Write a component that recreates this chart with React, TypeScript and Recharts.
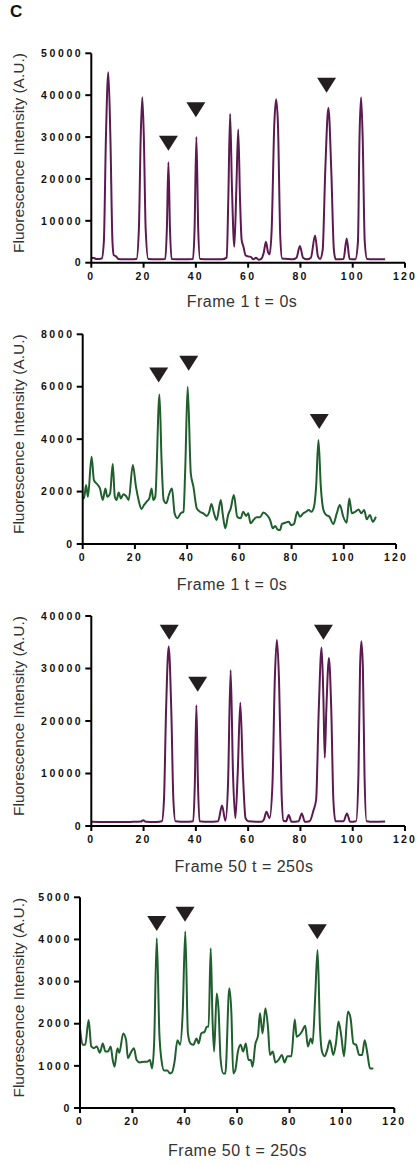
import React from "react";
import { ComposedChart, Line, Scatter, XAxis, YAxis, Label } from "recharts";

// x positions (frame pixel index) and intensities
const frame1Purple: [number, number][] = [
  [0, 1200], [1, 1100], [2, 900], [3, 900], [4, 1000], [4.8, 5000], [5.6, 30000], [6.5, 45500], [7.3, 30000], [8.1, 5000],
  [8.6, 1800], [9.5, 1500], [10.3, 900], [12, 800], [15, 800], [17.3, 900], [18.2, 8000], [18.9, 30000], [19.5, 39500],
  [20.1, 30000], [20.8, 8000], [21.8, 900], [25, 800], [28.3, 900], [28.9, 8000], [29.5, 24000], [30.1, 8000], [30.7, 900],
  [35, 800], [38.9, 900], [39.5, 8000], [40.2, 30000], [40.9, 8000], [41.6, 900], [45, 800], [50, 800], [51.8, 1200],
  [52.4, 15000], [53.1, 35500], [53.8, 18000], [54.7, 3800], [55.5, 18000], [56.2, 31800], [56.9, 15000], [57.5, 5500],
  [58.2, 3800], [59, 1800], [60, 1500], [61, 1400], [62, 800], [63, 1200], [64, 700], [65, 900], [66, 2500], [66.8, 5000],
  [67.6, 2500], [68.2, 2000], [69, 8000], [70, 33000], [70.7, 39000], [71.4, 33000], [72.3, 6000], [73, 1000], [75, 900],
  [77, 800], [78.5, 1200], [79.8, 4000], [81, 1200], [82.5, 800], [84, 1200], [85.6, 6500], [86.7, 1500], [87.5, 900],
  [88.5, 3000], [89.5, 22000], [90.7, 37000], [91.8, 22000], [92.8, 3000], [93.5, 800], [96.5, 900], [97.7, 5800],
  [98.8, 900], [101, 800], [102, 5000], [102.6, 30000], [103.2, 39500], [103.8, 30000], [104.6, 5000], [105.5, 900],
  [108, 800], [112.4, 800],
];

const frame1Green: [number, number][] = [
  [0, 1800], [0.5, 1740], [1.3, 2250], [2, 1800], [3.4, 3330], [4.3, 2440], [5.4, 2300], [6.6, 2120], [7.7, 1680],
  [8.7, 2120], [9.4, 1800], [10.5, 1930], [11.5, 3050], [12.3, 1800], [13, 1680], [13.8, 1960], [14.6, 1740], [15.6, 1900],
  [16.6, 1830], [17.6, 1680], [19.2, 3015], [20.4, 2190], [21.4, 1680], [22.5, 1340], [23.5, 1490], [24.5, 1620],
  [25.5, 1740], [26.4, 2120], [27, 1680], [27.8, 1800], [29.4, 5700], [30.2, 3200], [31, 1680], [32, 1550], [33, 1870],
  [34.2, 2120], [35.2, 1170], [36.3, 980], [37.5, 1170], [38.6, 1230], [39.3, 2950], [40.2, 6000], [41.4, 2700],
  [42.4, 2190], [43.7, 1360], [44.9, 1230], [46.2, 1170], [47.5, 1070], [48.5, 1230], [49.3, 1530], [50.3, 1170],
  [51.3, 915], [52.9, 1680], [53.6, 1170], [54.6, 600], [55.7, 1110], [56.7, 1360], [57.9, 1870], [59.2, 1040],
  [60.5, 980], [61.5, 1230], [62.6, 1070], [63.4, 1170], [64.3, 790], [65.4, 915], [66.6, 1020], [67.9, 1020],
  [69.2, 1200], [70.5, 1110], [71.8, 915], [72.8, 600], [73.7, 690], [74.6, 560], [75.6, 530], [76.3, 760], [77.6, 810],
  [78.9, 850], [79.9, 720], [80.9, 760], [82.2, 1230], [83.2, 1040], [84.5, 1170], [85.5, 1230], [86.6, 1300],
  [87.6, 1230], [88.6, 1420], [89.4, 2190], [90.3, 3970], [91.2, 2190], [92.2, 1300], [93.2, 1110], [94.5, 1040],
  [96, 760], [97.3, 1170], [98.5, 1490], [99.8, 1040], [101.1, 810], [102.1, 1740], [103.1, 1170], [104.4, 1230],
  [105.7, 1320], [106.7, 1170], [107.8, 1300], [108.8, 940], [110, 1110], [111.1, 850], [112.3, 1040],
];

const frame50Purple: [number, number][] = [
  [0, 800], [5, 750], [10, 750], [15, 780], [19, 850], [19.9, 1100], [20.8, 800], [25, 750], [27, 900], [27.8, 5000],
  [28.6, 22000], [29.6, 34200], [30.6, 22000], [31.4, 5000], [32.2, 900], [36, 800], [39, 900], [39.6, 8000],
  [40.2, 23000], [40.8, 8000], [41.4, 900], [45, 800], [48.5, 900], [50, 3900], [51.3, 1000], [52.3, 8000],
  [53.3, 29700], [54.2, 10000], [55.1, 1500], [56, 10000], [57, 23500], [58, 10000], [59, 1500], [60, 900], [65, 800],
  [66, 1200], [67, 2700], [68.2, 1500], [69.3, 8000], [70.2, 28000], [71, 35500], [71.8, 28000], [72.8, 6000],
  [73.5, 1000], [74.5, 900], [75.5, 2100], [76.6, 800], [79.3, 900], [80.5, 2400], [81.7, 800], [83.5, 900], [85, 3000],
  [86, 5000], [87, 22000], [88.1, 34000], [88.8, 24000], [89.3, 13000], [89.9, 22000], [90.9, 32000], [91.8, 22000],
  [92.6, 5000], [93.4, 900], [96.5, 900], [97.8, 2400], [99, 800], [101.3, 900], [102.2, 10000], [102.8, 30000],
  [103.3, 35200], [103.9, 30000], [104.5, 10000], [105.3, 900], [108, 800], [112.4, 850],
];

const frame50Green: [number, number][] = [
  [0, 1890], [1, 1500], [2, 1500], [3.3, 2090], [4.3, 1460], [5.3, 1420], [6.4, 1460], [7.6, 1310], [8.7, 1530],
  [9.7, 1340], [10.7, 1340], [11.7, 1460], [12.5, 1140], [13.2, 980], [14.3, 1420], [15, 1310], [16.5, 1770],
  [17.6, 1610], [18.3, 1180], [19.3, 1300], [20.6, 1420], [21.6, 1140], [22.9, 1080], [24.4, 1100], [25.7, 1100],
  [26.7, 1140], [27.5, 940], [28.3, 1530], [29.3, 4030], [30.3, 1770], [31.1, 1140], [32.1, 890], [33.3, 890],
  [34.4, 820], [35.1, 840], [36.1, 1100], [37.2, 1610], [38.2, 1500], [39.2, 2250], [40.2, 4190], [41.2, 1770],
  [42.2, 1530], [43.3, 1500], [44.5, 1650], [45.3, 1530], [46.3, 1770], [47.6, 1810], [48.4, 1930], [49.1, 1930],
  [49.9, 3790], [50.6, 2090], [51.2, 1340], [52.2, 2720], [52.9, 2330], [53.7, 1140], [54.7, 820], [55.5, 820],
  [57, 2840], [57.8, 2250], [58.5, 820], [59.3, 900], [60.3, 1340], [61.3, 1500], [62.3, 1340], [63.3, 1530],
  [64.3, 1140], [65.2, 1140], [65.9, 980], [66.9, 1500], [68, 1730], [68.7, 2250], [69.7, 1770], [70.8, 2370],
  [71.8, 1890], [72.5, 1260], [73.6, 1340], [74.6, 1080], [75.8, 1140], [77.1, 1260], [78.1, 1080], [79.2, 1230],
  [80.7, 1230], [82, 2100], [82.7, 1690], [83.7, 1730], [84.7, 1810], [86, 1950], [87, 1460], [88.1, 1650],
  [88.8, 1530], [89.8, 2640], [90.7, 3750], [91.6, 1930], [92.4, 1340], [93.4, 1230], [94.4, 1380], [95.4, 1610],
  [96.7, 1260], [97.7, 1530], [98.7, 2050], [99.8, 1690], [100.8, 1230], [102.3, 2290], [103.3, 2130], [104.4, 1530],
  [105.4, 1500], [106.6, 1260], [107.7, 1260], [108.7, 1610], [109.7, 1300], [110.7, 940], [112, 940],
];

// arrowhead annotations (x, y in data units)
const frame1PurpleMarks: [number, number][] = [[29.5, 28500], [40, 36500], [90, 42400]];
const frame1GreenMarks: [number, number][] = [[29.1, 6450], [40.6, 6900], [90.6, 4670]];
const frame50PurpleMarks: [number, number][] = [[29.8, 36900], [40.7, 27000], [88.8, 36900]];
const frame50GreenMarks: [number, number][] = [[29.3, 4380], [40.1, 4600], [90.6, 4185]];

const xTicks = [0, 20, 40, 60, 80, 100, 120];
const purpleTicks1 = [0, 10000, 20000, 30000, 40000, 50000];
const greenTicks1 = [0, 2000, 4000, 6000, 8000];
const purpleTicks50 = [0, 10000, 20000, 30000, 40000];
const greenTicks50 = [0, 1000, 2000, 3000, 4000, 5000];

const PURPLE = "#5c1a51";
const GREEN = "#1f5f2d";
const FONT = "'Liberation Sans', Arial, Helvetica, sans-serif";

const xTickStyle = { fill: "#111", fontSize: 10.5, fontWeight: 700, fontFamily: FONT, letterSpacing: 2.2 };
const yTickStyle = { fill: "#111", fontSize: 10.5, fontWeight: 700, fontFamily: FONT, letterSpacing: 2.6 };

const Triangle = (props: any) => {
  const { cx, cy } = props;
  if (cx == null || cy == null) return null;
  return <path d={`M${cx - 9.5},${cy - 7.5} L${cx + 9.5},${cy - 7.5} L${cx},${cy + 7.5} Z`} fill="#231f20" />;
};

function Panel(p: any) {
  const lineData = p.series.map(([x, y]: [number, number]) => ({ x, y }));
  const markData = p.marks.map(([x, y]: [number, number]) => ({ x, y }));
  const xAxisH = 30;
  return (
    <div style={{ position: "absolute", left: 0, top: p.top, width: 417, height: p.height }}>
      <ComposedChart
        width={417}
        height={p.height}
        margin={{ top: p.plotTop - p.top, right: 417 - p.right, bottom: p.top + p.height - p.plotBottom - xAxisH, left: 0 }}
      >
        <XAxis
          type="number"
          dataKey="x"
          domain={[0, 120]}
          ticks={xTicks}
          interval={0}
          height={xAxisH}
          axisLine={{ stroke: "#000", strokeWidth: 2 }}
          tickLine={{ stroke: "#000", strokeWidth: 2 }}
          tickSize={5}
          tickMargin={5}
          tick={xTickStyle}
        >
          <Label
            content={() => (
              <text x={p.titleX} y={p.titleY - p.top} textAnchor="middle" dominantBaseline="central"
                fontFamily={FONT} fontSize={16} letterSpacing={0.5} fill="#333">
                {p.title}
              </text>
            )}
          />
        </XAxis>
        <YAxis
          type="number"
          dataKey="y"
          domain={[0, p.yMax]}
          ticks={p.yTicks}
          interval={0}
          width={p.left}
          axisLine={{ stroke: "#000", strokeWidth: 2 }}
          tickLine={{ stroke: "#000", strokeWidth: 2 }}
          tickSize={6}
          tickMargin={2}
          tick={yTickStyle}
        >
          <Label
            content={() => {
              const cy = (p.plotTop + p.plotBottom) / 2 - p.top - 5;
              return (
                <text x={18.5} y={cy} transform={`rotate(-90, 18.5, ${cy})`} textAnchor="middle"
                  dominantBaseline="central" fontFamily={FONT} fontSize={15.5} fill="#333">
                  Fluorescence Intensity (A.U.)
                </text>
              );
            }}
          />
        </YAxis>
        <Line data={lineData} dataKey="y" type="monotone" stroke={p.color} strokeWidth={2}
          dot={false} activeDot={false} isAnimationActive={false} />
        <Scatter data={markData} dataKey="y" shape={Triangle} isAnimationActive={false} />
      </ComposedChart>
    </div>
  );
}

export default function App() {
  return (
    <div style={{ position: "absolute", left: 0, top: 0, width: 417, height: 1164, background: "#fff" }}>
      <div style={{ position: "absolute", left: 10, top: 2, fontFamily: FONT, fontWeight: 700, fontSize: 17, color: "#111" }}>C</div>
      <Panel top={30} height={285} left={91.3} right={405} plotTop={53.3} plotBottom={262.7}
        yMax={50000} yTicks={purpleTicks1} series={frame1Purple} marks={frame1PurpleMarks} color={PURPLE}
        title="Frame 1 t = 0s" titleX={242} titleY={301} />
      <Panel top={315} height={280} left={82.7} right={396} plotTop={334.3} plotBottom={544}
        yMax={8000} yTicks={greenTicks1} series={frame1Green} marks={frame1GreenMarks} color={GREEN}
        title="Frame 1 t = 0s" titleX={232} titleY={584} />
      <Panel top={595} height={282} left={91.3} right={405} plotTop={616} plotBottom={826}
        yMax={40000} yTicks={purpleTicks50} series={frame50Purple} marks={frame50PurpleMarks} color={PURPLE}
        title="Frame 50 t = 250s" titleX={244} titleY={866} />
      <Panel top={877} height={287} left={80} right={394.3} plotTop={897.3} plotBottom={1108}
        yMax={5000} yTicks={greenTicks50} series={frame50Green} marks={frame50GreenMarks} color={GREEN}
        title="Frame 50 t = 250s" titleX={237.5} titleY={1150} />
    </div>
  );
}
